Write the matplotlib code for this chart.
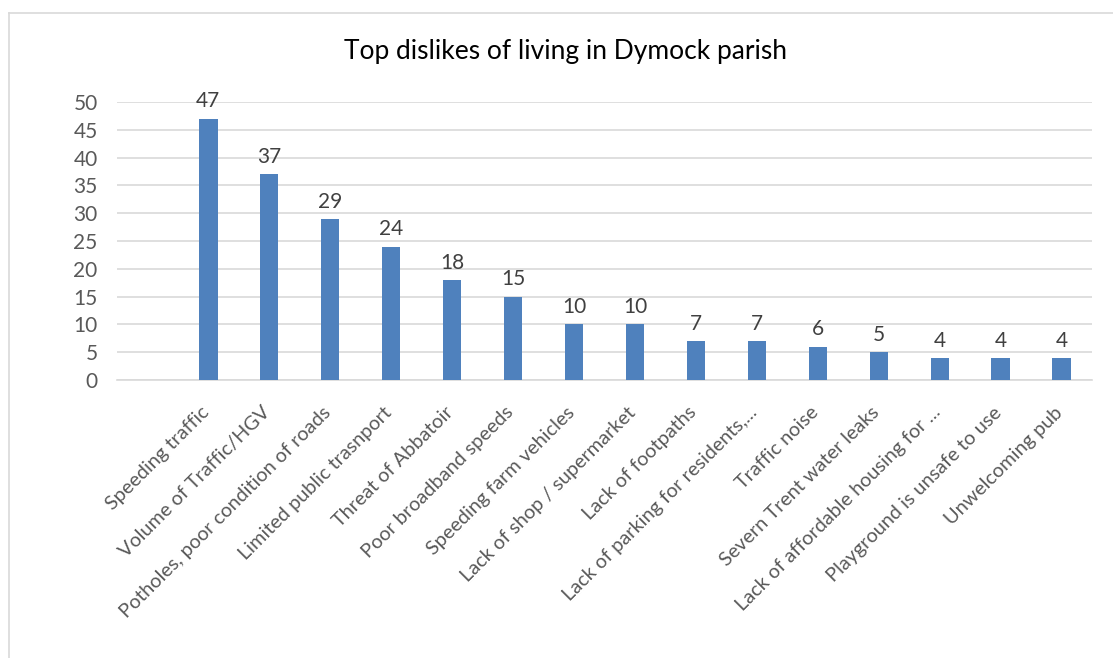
import matplotlib.pyplot as plt
from matplotlib.lines import Line2D
from matplotlib.transforms import ScaledTranslation

categories = [
    "Speeding traffic",
    "Volume of Traffic/HGV",
    "Potholes, poor condition of roads",
    "Limited public trasnport",
    "Threat of Abbatoir",
    "Poor broadband speeds",
    "Speeding farm vehicles",
    "Lack of shop / supermarket",
    "Lack of footpaths",
    "Lack of parking for residents,...",
    "Traffic noise",
    "Severn Trent water leaks",
    "Lack of affordable housing for ...",
    "Playground is unsafe to use",
    "Unwelcoming pub",
]
counts = [47, 37, 29, 24, 18, 15, 10, 10, 7, 7, 6, 5, 4, 4, 4]
y_ticks = [0, 5, 10, 15, 20, 25, 30, 35, 40, 45, 50]

plt.rcParams['font.family'] = ['Lato', 'DejaVu Sans']

W, H = 1113, 658
fig = plt.figure(figsize=(W / 100, H / 100), dpi=100)
ax = fig.add_axes([117 / W, 1 - 380 / H, (1092 - 117) / W, (380 - 102) / H])

x = list(range(len(categories)))
bars = ax.bar(x, counts, width=0.3, color='#4F81BD', zorder=3)
for xi, v in zip(x, counts):
    ax.text(xi, v + 1.3, str(v), ha='center', va='bottom', fontsize=15, color='#404040')

# leading empty category slot, as in the original spreadsheet chart
ax.set_xlim(-1.5, len(categories) - 0.5)
ax.set_ylim(0, 50)
ax.set_yticks(y_ticks)
ax.set_xticks(x)
ax.set_xticklabels(categories, rotation=45, ha='right', rotation_mode='anchor',
                   fontsize=14.3, color='#595959')
ax.tick_params(axis='y', labelsize=15, labelcolor='#595959', length=0, pad=14)
ax.tick_params(axis='x', length=0, pad=17)
shift = ScaledTranslation(-8 / 100, 0, fig.dpi_scale_trans)
for lab in ax.get_xticklabels():
    lab.set_transform(lab.get_transform() + shift)
ax.yaxis.grid(True, color='#D9D9D9', lw=1.2, zorder=0)
for s in ['top', 'right', 'left']:
    ax.spines[s].set_visible(False)
ax.spines['bottom'].set_color('#D9D9D9')
ax.spines['bottom'].set_linewidth(1.2)

fig.text(565 / W, 1 - 52 / H, "Top dislikes of living in Dymock parish",
         ha='center', va='center', fontsize=19, color='#000000')

# outer chart border (top and left visible)
fig.add_artist(Line2D([9 / W, 1.0], [1 - 13 / H, 1 - 13 / H], transform=fig.transFigure,
                      color='#D9D9D9', lw=1.2))
fig.add_artist(Line2D([9 / W, 9 / W], [0, 1 - 13 / H], transform=fig.transFigure,
                      color='#D9D9D9', lw=1.2))

fig.savefig('out.png', dpi=100)
